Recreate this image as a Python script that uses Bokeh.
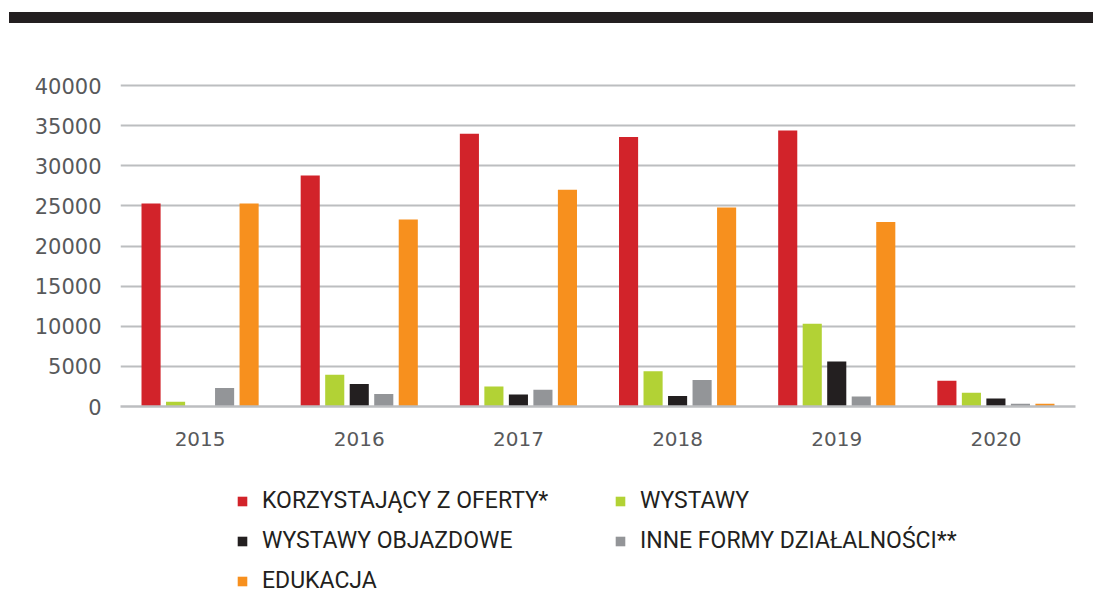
from bokeh.plotting import figure
from bokeh.models import (ColumnDataSource, FactorRange, Range1d, FixedTicker, Legend,
                          LegendItem, Div, NumeralTickFormatter)
from bokeh.layouts import column
from bokeh.transform import dodge
from bokeh.embed import file_html
from bokeh.resources import INLINE

years = ["2015", "2016", "2017", "2018", "2019", "2020"]
korzystajacy = [25300, 28800, 34000, 33600, 34400, 3200]
wystawy = [600, 3950, 2500, 4400, 10300, 1700]
objazdowe = [0, 2800, 1500, 1300, 5600, 1000]
inne = [2300, 1550, 2100, 3300, 1250, 350]
edukacja = [25300, 23300, 27000, 24800, 23000, 350]

series_names = ["KORZYSTAJĄCY Z OFERTY*", "WYSTAWY", "WYSTAWY OBJAZDOWE",
                "INNE FORMY DZIAŁALNOŚCI**", "EDUKACJA"]
series_keys = ["korzystajacy", "wystawy", "objazdowe", "inne", "edukacja"]
colors = ["#d2232a", "#b2d235", "#231f20", "#939598", "#f7901e"]
y_ticks = [0, 5000, 10000, 15000, 20000, 25000, 30000, 35000, 40000]

source = ColumnDataSource(data=dict(years=years, korzystajacy=korzystajacy, wystawy=wystawy,
                                    objazdowe=objazdowe, inne=inne, edukacja=edukacja))

p = figure(x_range=FactorRange(*years), y_range=Range1d(0, 41000),
           width=1077, height=444, output_backend="svg", toolbar_location=None,
           min_border_left=120, min_border_right=2, min_border_top=49, min_border_bottom=66)
p.outline_line_color = None
p.background_fill_color = "white"

step = 0.154
bw = 0.12
renderers = []
for i, (key, col) in enumerate(zip(series_keys, colors)):
    r = p.vbar(x=dodge("years", (i - 2) * step, range=p.x_range), top=key, width=bw,
               source=source, fill_color=col, line_color=None)
    renderers.append(r)

p.yaxis.ticker = FixedTicker(ticks=y_ticks)
p.yaxis.formatter = NumeralTickFormatter(format="0")
p.yaxis.axis_line_color = None
p.yaxis.major_tick_line_color = None
p.yaxis.major_tick_out = 0
p.yaxis.minor_tick_line_color = None
p.yaxis.major_label_text_font = "DejaVu Sans"
p.yaxis.major_label_text_font_size = "21px"
p.yaxis.major_label_text_color = "#58595b"
p.yaxis.major_label_standoff = 19

p.xaxis.axis_line_color = "#bcbec0"
p.xaxis.axis_line_width = 2.5
p.xaxis.major_tick_line_color = None
p.xaxis.major_tick_out = 0
p.xaxis.minor_tick_line_color = None
p.xaxis.major_label_text_font = "DejaVu Sans"
p.xaxis.major_label_text_font_size = "20px"
p.xaxis.major_label_text_color = "#58595b"
p.xaxis.major_label_standoff = 25

p.xgrid.grid_line_color = None
p.ygrid.grid_line_color = "#bcbec0"
p.ygrid.grid_line_width = 2

# legend figure (separate so the legend is not clipped by the chart frame)
lf = figure(width=1077, height=122, output_backend="svg", toolbar_location=None,
            x_axis_type=None, y_axis_type=None, min_border=0,
            x_range=Range1d(0, 1), y_range=Range1d(0, 1))
lf.outline_line_color = None
lf.grid.grid_line_color = None
# invisible legend proxies (zero height, outside the visible range)
lrs = [lf.vbar(x=[-5], top=[0], width=0.1, fill_color=c, line_color=None) for c in colors]

# column-major fill: col1 = KORZ, OBJ, EDU ; col2 = WYSTAWY, INNE
order = [0, 2, 4, 1, 3]
legend = Legend(items=[LegendItem(label=series_names[k], renderers=[lrs[k]]) for k in order],
                orientation="vertical", nrows=3, location=(116, 0),
                glyph_width=12, glyph_height=12, label_standoff=14, label_width=339,
                spacing=13, padding=0, margin=0, border_line_color=None,
                background_fill_alpha=0,
                label_text_font="Roboto", label_text_font_size="23px",
                label_text_color="#231f20")
lf.add_layout(legend, "center")

bar = Div(text='<div style="padding-top:7px"><div style="background:#231f20;height:11px;width:1089px;margin-left:4px"></div></div>',
          width=1093, height=18)

layout = column(bar, p, lf, spacing=0)
open("out.html", "w").write(file_html(layout, INLINE))
